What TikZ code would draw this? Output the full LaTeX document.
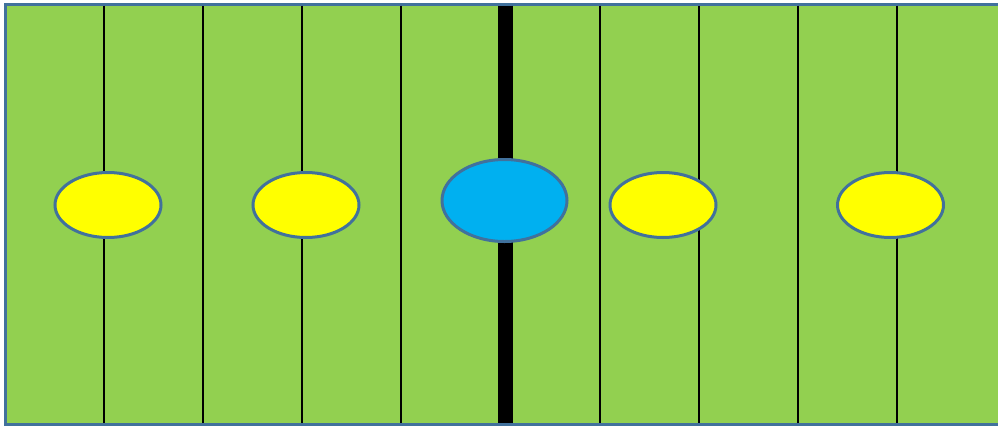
\documentclass[tikz,border=0pt]{standalone}
\usetikzlibrary{shapes.geometric}
\definecolor{fieldgreen}{HTML}{92D050}
\definecolor{edgeblue}{HTML}{41719C}
\definecolor{ballblue}{HTML}{00B0F0}
\definecolor{ballyellow}{HTML}{FFFF00}
\tikzset{
  yard/.style={black, line width=1.1pt},
  midline/.style={black, line width=15pt},
  player/.style={ellipse, draw=edgeblue, line width=3pt, fill=ballyellow, minimum width=106pt, minimum height=65pt, inner sep=0pt},
  ball/.style={player, fill=ballblue, minimum width=125pt, minimum height=82pt}
}
\begin{document}
\begin{tikzpicture}[x=1pt,y=-1pt]
\useasboundingbox (0,0) rectangle (998,426);
\begin{scope}
\clip (0,0) rectangle (998,426);
\draw[fill=fieldgreen, draw=edgeblue, line width=2.8pt] (5.5,4.2) rectangle (1010,424.5);
\foreach \x in {104,203,302,401,600,699,897} {
  \draw[yard] (\x,5.5) -- (\x,423);
}
\draw[black, line width=1.8pt] (798,5.5) -- (798,423);
\draw[midline] (505.5,5.5) -- (505.5,423);
\end{scope}
\node[player] (p1) at (108,205) {};
\node[player] (p2) at (306,205) {};
\node[ball] (b) at (504.5,200.5) {};
\node[player] (p3) at (663,205) {};
\node[player] (p4) at (890.5,205) {};
\end{tikzpicture}
\end{document}
